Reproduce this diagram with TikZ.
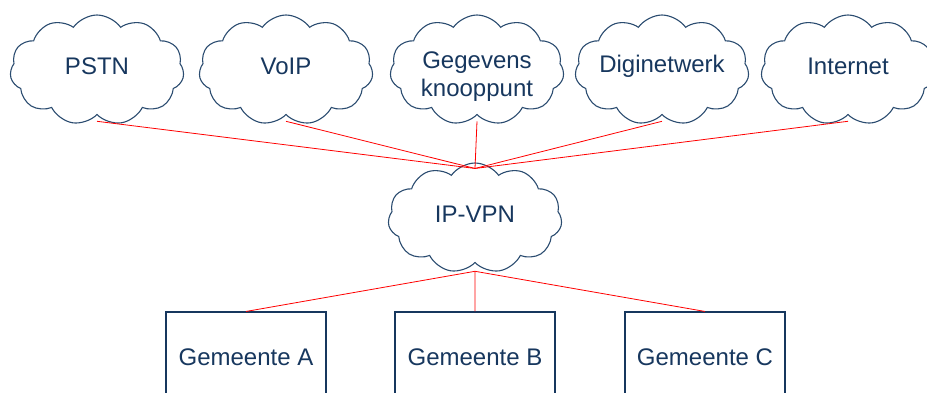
\documentclass[tikz,border=0pt]{standalone}
\usepackage{fontspec}
\setmainfont{Liberation Sans}
\usetikzlibrary{shapes.symbols}
\definecolor{navy}{HTML}{17375E}
\definecolor{cloudline}{HTML}{2B4C70}
\tikzset{
  net/.style={cloud, cloud puffs=11, cloud puff arc=110, draw=cloudline, line width=1.1pt,
    minimum width=174pt, minimum height=110pt, inner sep=0pt},
  every label/.style={text=navy, align=center, font=\fontsize{24}{28}\selectfont, yshift=4pt},
  gemeente/.style={rectangle, draw=navy, line width=1.1pt, minimum width=160pt, minimum height=90pt,
    text=navy, font=\fontsize{24}{29}\selectfont},
  link/.style={red, line width=0.8pt}
}
\begin{document}
\begin{tikzpicture}[x=1pt,y=-1pt]
                \useasboundingbox (0,0) rectangle (927,392);
                \node[net, label={center:PSTN}] (pstn) at (97,70) {};
                \node[net, label={center:VoIP}] (voip) at (286,70) {};
                \node[net, label={[yshift=-11pt]center:Gegevens\\knooppunt}] (gegevens) at (477,70) {};
                \node[net, label={center:Diginetwerk}] (digi) at (662,70) {};
                \node[net, label={center:Internet}] (internet) at (848,70) {};
                \node[net, label={center:IP-VPN}] (ipvpn) at (475,218) {};
                \node[gemeente] (gemA) at (246,357) {Gemeente A};
                \node[gemeente] (gemB) at (475,357) {Gemeente B};
                \node[gemeente] (gemC) at (705,357) {Gemeente C};

                \draw[link] ([yshift=-6pt]pstn.south) to ([yshift=-6pt]ipvpn.north);
                \draw[link] ([yshift=-6pt]voip.south) to ([yshift=-6pt]ipvpn.north);
                \draw[link] ([yshift=-6pt]gegevens.south) to ([yshift=-6pt]ipvpn.north);
                \draw[link] ([yshift=-6pt]digi.south) to ([yshift=-6pt]ipvpn.north);
                \draw[link] ([yshift=-6pt]internet.south) to ([yshift=-6pt]ipvpn.north);
                \draw[link] ([yshift=-8pt]ipvpn.south) to (gemA.north);
                \draw[link] ([yshift=-8pt]ipvpn.south) to (gemB.north);
                \draw[link] ([yshift=-8pt]ipvpn.south) to (gemC.north);
            \end{tikzpicture}
\end{document}
